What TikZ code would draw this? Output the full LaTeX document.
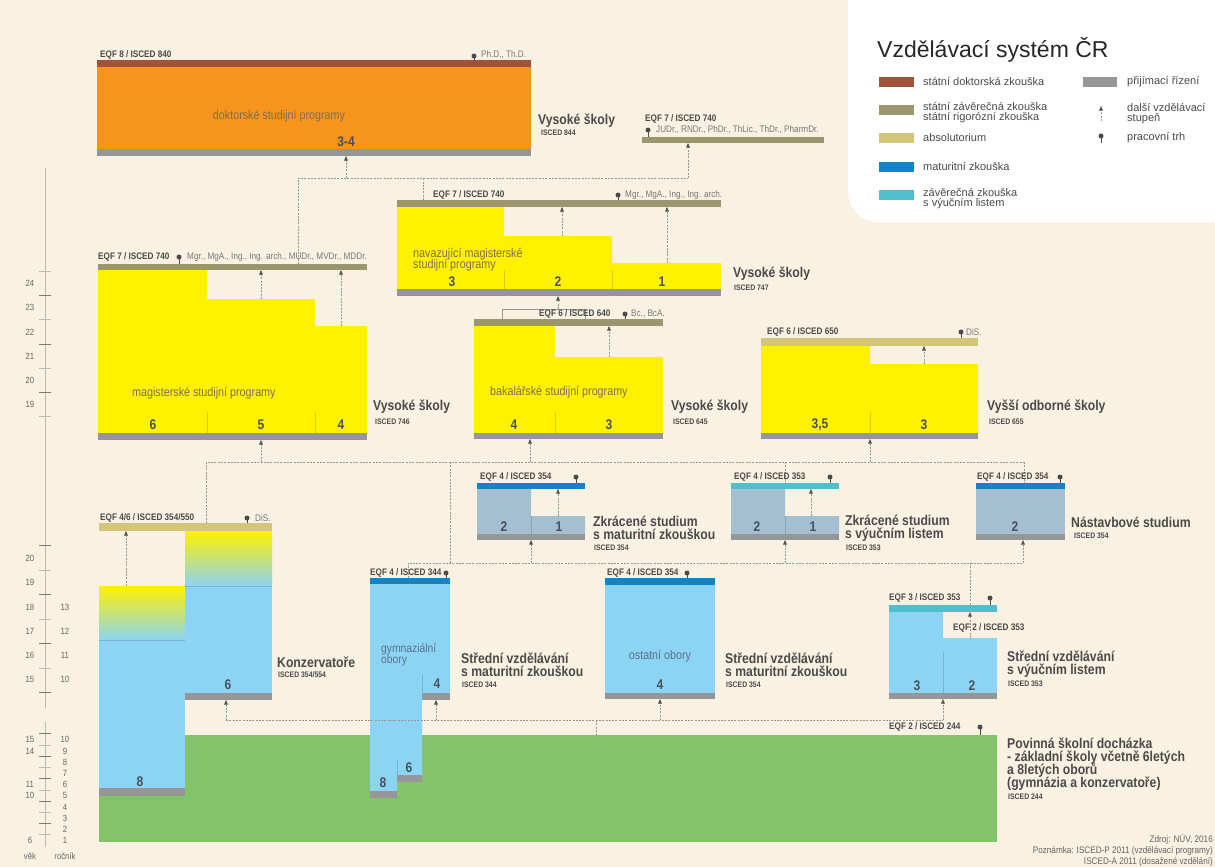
\documentclass[tikz,border=0pt]{standalone}
\usepackage{fontspec}
\setmainfont{Liberation Sans}
\newfontfamily\nf[FakeStretch=0.86]{Liberation Sans}
\usetikzlibrary{arrows.meta}
\definecolor{bg}{RGB}{249,242,226}
\definecolor{orng}{RGB}{247,148,30}
\definecolor{brwn}{RGB}{160,82,58}
\definecolor{gbar}{RGB}{150,150,152}
\definecolor{olive}{RGB}{156,150,110}
\definecolor{yel}{RGB}{255,241,0}
\definecolor{khaki}{RGB}{212,198,120}
\definecolor{mblue}{RGB}{12,133,201}
\definecolor{teal}{RGB}{80,190,204}
\definecolor{lblue}{RGB}{140,212,244}
\definecolor{gblue}{RGB}{165,191,210}
\definecolor{grn}{RGB}{131,196,107}
\definecolor{tdark}{RGB}{74,74,74}
\definecolor{tmid}{RGB}{100,100,100}
\definecolor{tlight}{RGB}{120,120,120}
\definecolor{tnum}{RGB}{72,82,92}
\definecolor{tbody}{RGB}{125,112,82}
\definecolor{tbblue}{RGB}{90,115,140}
\definecolor{cgray}{RGB}{150,150,150}
\definecolor{tipc}{RGB}{80,80,80}
\definecolor{axc}{RGB}{190,185,175}
\definecolor{axd}{RGB}{120,120,120}
\definecolor{pinc}{RGB}{75,75,75}
\newcommand\fEqf{\nf\bfseries\fontsize{9.5}{10}\selectfont}
\newcommand\fCred{\nf\fontsize{9.5}{10}\selectfont}
\newcommand\fBody{\nf\fontsize{12.5}{11}\selectfont}
\newcommand\fTtl{\nf\bfseries\fontsize{14.2}{12.8}\selectfont}
\newcommand\fIsc{\nf\bfseries\fontsize{8}{9}\selectfont}
\newcommand\fNum{\nf\bfseries\fontsize{14}{14}\selectfont}
\newcommand\fLeg{\fontsize{11}{10}\selectfont}
\newcommand\fAx{\nf\fontsize{9}{9}\selectfont}
\newcommand\fFoot{\nf\fontsize{9.5}{11}\selectfont}
\newcommand\mypin[3]{\fill[pinc] (#1,#2) circle (2.5pt); \draw[pinc,line width=0.9pt] (#1,#2) -- (#1,#3);}
\tikzset{
  eqf/.style={font=\fEqf,text=tdark,anchor=west,inner sep=0pt},
  cred/.style={font=\fCred,text=tlight,anchor=west,inner sep=0pt},
  body/.style={font=\fBody,text=tbody,inner sep=0pt,align=left},
  ttl/.style={font=\fTtl,text=tdark,anchor=west,inner sep=0pt,align=left},
  isc/.style={font=\fIsc,text=tdark,anchor=west,inner sep=0pt},
  numl/.style={font=\fNum,text=tnum,inner sep=0pt},
  leg/.style={font=\fLeg,text=tdark,anchor=west,inner sep=0pt,align=left},
  axlab/.style={font=\fAx,text=tmid,inner sep=0pt},
  conn/.style={draw=cgray,line width=0.6pt,dash pattern=on 2pt off 1.3pt},
  arr/.style={conn,-{Triangle[length=4.5pt,width=3.6pt,fill=tipc,color=tipc]}},
  axl/.style={draw=axc,line width=0.7pt},
  divy/.style={draw=black,opacity=0.15,line width=0.5pt},
}
\begin{document}
\lineskiplimit=-100pt
\begin{tikzpicture}[x=1pt,y=-1pt]
\useasboundingbox (0,0) rectangle (1215,867);
\fill[bg] (0,0) rectangle (1215,867);
\begin{scope}
\clip (0,0) rectangle (1215,867);
\fill[white,rounded corners=30pt] (848,-40) rectangle (1260,222);
\end{scope}

% ---------- legend ----------
\node[anchor=west,inner sep=0pt,font=\fontsize{23}{23}\selectfont,text=black!85] (legtitle) at (877,50) {Vzdělávací systém ČR};
\fill[brwn] (879,77) rectangle (914,87);
\node[leg] (leg1) at (923,82) {státní doktorská zkouška};
\fill[olive] (879,105) rectangle (914,115);
\node[leg] (leg2) at (923,113) {státní závěrečná zkouška\\státní rigorózní zkouška};
\fill[khaki] (879,133) rectangle (914,143);
\node[leg] (leg3) at (923,138) {absolutorium};
\fill[mblue] (879,162) rectangle (914,172);
\node[leg] (leg4) at (923,167) {maturitní zkouška};
\fill[teal] (879,190) rectangle (914,200);
\node[leg] (leg5) at (923,199) {závěrečná zkouška\\s výučním listem};
\fill[gbar] (1083,77) rectangle (1117,87);
\node[leg] (leg6) at (1127,82) {přijímací řízení};
\coordinate (la1) at (1101,121);
\coordinate (la2) at (1101,106);
\draw[arr] (la1) -- (la2);
\node[leg] (leg7) at (1127,114) {další vzdělávací\\stupeň};
\mypin{1101}{136}{143}
\node[leg] (leg8) at (1127,138) {pracovní trh};

% ---------- axis ----------
\draw[axl] (45,168) -- (45,708);
\draw[axl] (45,722) -- (45,847);
\foreach \y [count=\i] in {271,295,319,344,368,392,416,545,570,594,619,643,668,692}{
  \draw[axl,draw=\ifodd\i axc\else axd\fi] (39,\y) -- (51,\y);}
\foreach \y [count=\i] in {733,745,756,767,778,790,801,812,823,834}{
  \draw[axl,draw=\ifodd\i axd\else axc\fi] (39,\y) -- (51,\y);}
\foreach \t/\y [count=\i] in {24/283,23/307,22/332,21/356,20/380,19/404,20/558,19/582,18/607,17/631,16/655,15/679,15/739,14/751,11/784,10/795,6/840}{
  \node[axlab] (age\i) at (30,\y) {\t};}
\foreach \t/\y [count=\i] in {13/607,12/631,11/655,10/679,10/739,9/751,8/762,7/773,6/784,5/795,4/807,3/818,2/829,1/840}{
  \node[axlab] (roc\i) at (65,\y) {\t};}
\node[axlab] (vek) at (30,856) {věk};
\node[axlab] (rocnik) at (65,856) {ročník};

% ---------- boxes ----------
% doctoral
\fill[brwn] (97,60) rectangle (531,67);
\fill[orng] (97,67) rectangle (531,149);
\fill[gbar] (97,149) rectangle (531,156);
% JUDr bar
\fill[olive] (642,137) rectangle (824,143);
% navazujici
\fill[olive] (397,200) rectangle (721,207);
\fill[yel] (397,207) -- (504,207) -- (504,236) -- (612,236) -- (612,263) -- (721,263) -- (721,289) -- (397,289) -- cycle;
\fill[gbar] (397,289) rectangle (721,296);
\draw[divy] (504,270) -- (504,289); \draw[divy] (612,270) -- (612,289);
% magisterske
\fill[olive] (98,264) rectangle (367,270);
\fill[yel] (98,270) -- (207,270) -- (207,299) -- (315,299) -- (315,326) -- (367,326) -- (367,433) -- (98,433) -- cycle;
\fill[gbar] (98,433) rectangle (367,440);
\draw[divy] (207,412) -- (207,433); \draw[divy] (315,412) -- (315,433);
% bakalarske
\fill[olive] (474,319) rectangle (663,326);
\fill[yel] (474,326) -- (555,326) -- (555,357) -- (663,357) -- (663,433) -- (474,433) -- cycle;
\fill[gbar] (474,433) rectangle (663,439);
\draw[divy] (555,412) -- (555,433);
% VOS
\fill[khaki] (761,338) rectangle (978,346);
\fill[yel] (761,346) -- (870,346) -- (870,364) -- (978,364) -- (978,433) -- (761,433) -- cycle;
\fill[gbar] (761,433) rectangle (978,439);
\draw[divy] (870,412) -- (870,433);
% zkracene 354
\fill[mblue] (477,483) rectangle (585,489);
\fill[gblue] (477,489) -- (531,489) -- (531,516) -- (585,516) -- (585,534) -- (477,534) -- cycle;
\fill[gbar] (477,534) rectangle (585,540);
\draw[divy] (531,516) -- (531,534);
% zkracene 353
\fill[teal] (731,483) rectangle (839,489);
\fill[gblue] (731,489) -- (785,489) -- (785,516) -- (839,516) -- (839,534) -- (731,534) -- cycle;
\fill[gbar] (731,534) rectangle (839,540);
\draw[divy] (785,516) -- (785,534);
% nastavbove
\fill[mblue] (976,483) rectangle (1065,489);
\fill[gblue] (976,489) rectangle (1065,534);
\fill[gbar] (976,534) rectangle (1065,540);
% green
\fill[grn] (99,735) rectangle (997,842);
% konzervatore
\fill[khaki] (99,523) rectangle (272,531);
\shade[top color=yel,bottom color=lblue] (99,586) rectangle (185,640);
\fill[lblue] (99,640) rectangle (185,788);
\fill[gbar] (99,788) rectangle (185,796);
\shade[top color=yel,bottom color=lblue] (185,531) rectangle (272,586);
\fill[lblue] (185,586) rectangle (272,693);
\fill[gbar] (185,693) rectangle (272,700);
\draw[divy] (99,640) -- (185,640); \draw[divy] (185,586) -- (272,586);
% gymnazium
\fill[mblue] (370,578) rectangle (450,584);
\fill[lblue] (370,584) -- (450,584) -- (450,693) -- (422,693) -- (422,775) -- (397,775) -- (397,791) -- (370,791) -- cycle;
\fill[gbar] (422,693) rectangle (450,700);
\fill[gbar] (397,775) rectangle (422,782);
\fill[gbar] (370,791) rectangle (397,798);
\draw[divy] (422,675) -- (422,693); \draw[divy] (397,760) -- (397,775);
% ostatni
\fill[mblue] (605,578) rectangle (715,585);
\fill[lblue] (605,585) rectangle (715,693);
\fill[gbar] (605,693) rectangle (715,699);
% ucebni
\fill[teal] (889,605) rectangle (997,612);
\fill[lblue] (889,612) -- (943,612) -- (943,638) -- (997,638) -- (997,693) -- (889,693) -- cycle;
\fill[gbar] (889,693) rectangle (997,699);
\draw[divy] (943,652) -- (943,693);

% ---------- connectors ----------
% level A
\coordinate (A1) at (298,178); \coordinate (A2) at (688,178);
\coordinate (Mtop) at (298,264);
\coordinate (Jb) at (688,143);
\coordinate (Ad) at (346,178); \coordinate (Dbot) at (346,156);
\coordinate (Nv) at (423,178); \coordinate (Ntop) at (423,200);
\draw[conn] (Mtop) -- (A1) -- (A2);
\draw[arr] (A2) -- (Jb);
\draw[arr] (Ad) -- (Dbot);
\draw[conn] (Ntop) -- (Nv);
% bakalar bracket to nav
\coordinate (Bb1) at (502,319); \coordinate (Bb2) at (502,309);
\coordinate (Bb3) at (585,309); \coordinate (Bb4) at (585,319);
\coordinate (Bn1) at (558,309); \coordinate (Bn2) at (558,296);
\draw[draw=cgray,line width=0.6pt] (Bb1) -- (Bb2) -- (Bb3) -- (Bb4);
\draw[arr] (Bn1) -- (Bn2);
% internal arrows
\coordinate (m5a) at (261,299); \coordinate (m5b) at (261,270); \draw[arr] (m5a) -- (m5b);
\coordinate (m4a) at (341,326); \coordinate (m4b) at (341,270); \draw[arr] (m4a) -- (m4b);
\coordinate (n2a) at (562,236); \coordinate (n2b) at (562,207); \draw[arr] (n2a) -- (n2b);
\coordinate (n1a) at (667,263); \coordinate (n1b) at (667,207); \draw[arr] (n1a) -- (n1b);
\coordinate (b3a) at (609,357); \coordinate (b3b) at (609,326); \draw[arr] (b3a) -- (b3b);
\coordinate (v3a) at (924,364); \coordinate (v3b) at (924,346); \draw[arr] (v3a) -- (v3b);
\coordinate (z1a) at (558,516); \coordinate (z1b) at (558,489); \draw[arr] (z1a) -- (z1b);
\coordinate (y1a) at (811,516); \coordinate (y1b) at (811,489); \draw[arr] (y1a) -- (y1b);
\coordinate (u2a) at (970,638); \coordinate (u2b) at (970,612); \draw[arr] (u2a) -- (u2b);
\coordinate (k8a) at (126,586); \coordinate (k8b) at (126,531); \draw[arr] (k8a) -- (k8b);
% level B
\coordinate (B1) at (206,462); \coordinate (B2) at (1024,462);
\coordinate (Kbar) at (206,523);
\draw[conn] (Kbar) -- (B1) -- (B2);
\coordinate (Bm) at (261,462); \coordinate (Mbot) at (261,440); \draw[arr] (Bm) -- (Mbot);
\coordinate (Bb) at (530,462); \coordinate (Bbot) at (530,439); \draw[arr] (Bb) -- (Bbot);
\coordinate (Bv) at (870,462); \coordinate (Vbot) at (870,439); \draw[arr] (Bv) -- (Vbot);
\coordinate (Bg) at (450,462); \coordinate (Cg) at (450,563); \draw[conn] (Bg) -- (Cg);
\coordinate (By) at (785,462); \coordinate (Ytop) at (785,483); \draw[conn] (By) -- (Ytop);
\coordinate (Nsttop) at (1024,483); \draw[conn] (B2) -- (Nsttop);
% level C
\coordinate (C1) at (408,563); \coordinate (C2) at (1023,563);
\coordinate (Gtop) at (408,578);
\draw[conn] (Gtop) -- (C1) -- (C2);
\coordinate (Cz) at (531,563); \coordinate (Zbot) at (531,540); \draw[arr] (Cz) -- (Zbot);
\coordinate (Cy) at (785,563); \coordinate (Ybot) at (785,540); \draw[arr] (Cy) -- (Ybot);
\coordinate (Nstbot) at (1023,540); \draw[arr] (C2) -- (Nstbot);
\coordinate (Cu) at (970,563); \coordinate (Utop) at (970,605); \draw[conn] (Cu) -- (Utop);
% level D
\coordinate (D1) at (226,720); \coordinate (D2) at (943,720);
\coordinate (K6bot) at (226,700);
\draw[conn] (D1) -- (D2);
\draw[arr] (D1) -- (K6bot);
\coordinate (Dg) at (436,720); \coordinate (G4bot) at (436,700); \draw[arr] (Dg) -- (G4bot);
\coordinate (Do) at (660,720); \coordinate (Obot) at (660,699); \draw[arr] (Do) -- (Obot);
\coordinate (Ubot) at (943,699); \draw[arr] (D2) -- (Ubot);
\coordinate (Dz) at (596,720); \coordinate (Ztop) at (596,735); \draw[conn] (Dz) -- (Ztop);

% ---------- pins ----------
\mypin{474}{56}{60}
\mypin{648}{130}{137}
\mypin{618}{195}{200}
\mypin{179}{257}{264}
\mypin{625}{314}{319}
\mypin{961}{332}{338}
\mypin{247}{518}{523}
\mypin{576}{477}{483}
\mypin{830}{477}{483}
\mypin{1060}{477}{483}
\mypin{446}{573}{578}
\mypin{687}{573}{578}
\mypin{990}{598}{605}
\mypin{980}{727}{735}

% ---------- texts ----------
% doctoral
\node[eqf] (eqf8) at (100,55) {EQF 8 / ISCED 840};
\node[cred] (phd) at (481,55) {Ph.D., Th.D.};
\node[body] (dokt) at (279,116) {doktorské studijní programy};
\node[numl] (d34) at (346,142) {3-4};
\node[ttl] (vs1) at (538,121) {Vysoké školy};
\node[isc] (is844) at (541,133) {ISCED 844};
% JUDr
\node[eqf] (eqf7j) at (645,119) {EQF 7 / ISCED 740};
\node[cred] (judr) at (656,130) {JUDr., RNDr., PhDr., ThLic., ThDr., PharmDr.};
% nav
\node[eqf] (eqf7n) at (433,195) {EQF 7 / ISCED 740};
\node[cred] (mgrn) at (625,195) {Mgr., MgA., Ing., Ing. arch.};
\node[body,anchor=west] (nav) at (413,260) {navazující magisterské\\studijní programy};
\node[numl] (n3) at (452,282) {3};
\node[numl] (n2) at (558,282) {2};
\node[numl] (n1) at (662,282) {1};
\node[ttl] (vs2) at (733,274) {Vysoké školy};
\node[isc] (is747) at (734,288) {ISCED 747};
% magisterske
\node[eqf] (eqf7m) at (98,257) {EQF 7 / ISCED 740};
\node[cred] (mgrm) at (187,257) {Mgr., MgA., Ing., Ing. arch., MUDr., MVDr., MDDr.};
\node[body,anchor=west] (mag) at (132,393) {magisterské studijní programy};
\node[numl] (m6) at (153,425) {6};
\node[numl] (m5) at (261,425) {5};
\node[numl] (m4) at (341,425) {4};
\node[ttl] (vs3) at (373,407) {Vysoké školy};
\node[isc] (is746) at (375,422) {ISCED 746};
% bakalarske
\node[eqf] (eqf6b) at (539,314) {EQF 6 / ISCED 640};
\node[cred] (bc) at (631,314) {Bc., BcA.};
\node[body,anchor=west] (bak) at (490,392) {bakalářské studijní programy};
\node[numl] (b4) at (514,425) {4};
\node[numl] (b3) at (609,425) {3};
\node[ttl] (vs4) at (671,407) {Vysoké školy};
\node[isc] (is645) at (673,422) {ISCED 645};
% VOS
\node[eqf] (eqf6v) at (767,332) {EQF 6 / ISCED 650};
\node[cred] (dis1) at (966,332) {DiS.};
\node[numl] (v35) at (820,425) {3,5};
\node[numl] (v3) at (924,425) {3};
\node[ttl] (vos) at (987,407) {Vyšší odborné školy};
\node[isc] (is655) at (989,422) {ISCED 655};
% zkracene 354
\node[eqf] (eqf4z) at (480,477) {EQF 4 / ISCED 354};
\node[numl] (z2) at (504,527) {2};
\node[numl] (z1) at (559,527) {1};
\node[ttl] (zkr1) at (593,528) {Zkrácené studium\\s maturitní zkouškou};
\node[isc] (is354a) at (594,548) {ISCED 354};
% zkracene 353
\node[eqf] (eqf4y) at (734,477) {EQF 4 / ISCED 353};
\node[numl] (y2) at (757,527) {2};
\node[numl] (y1) at (813,527) {1};
\node[ttl] (zkr2) at (845,528) {Zkrácené studium\\s výučním listem};
\node[isc] (is353a) at (846,548) {ISCED 353};
% nastavbove
\node[eqf] (eqf4n) at (977,477) {EQF 4 / ISCED 354};
\node[numl] (ns2) at (1015,527) {2};
\node[ttl] (nast) at (1071,522) {Nástavbové studium};
\node[isc] (is354b) at (1074,536) {ISCED 354};
% konzervatore
\node[eqf] (eqfk) at (100,518) {EQF 4/6 / ISCED 354/550};
\node[cred] (dis2) at (255,518) {DiS.};
\node[numl] (k8) at (140,782) {8};
\node[numl] (k6) at (228,685) {6};
\node[ttl] (konz) at (277,662) {Konzervatoře};
\node[isc] (is354554) at (278,675) {ISCED 354/554};
% gymnazium
\node[eqf] (eqf4g) at (370,573) {EQF 4 / ISCED 344};
\node[body,anchor=west,text=tbblue,font=\nf\fontsize{12}{10.5}\selectfont] (gymo) at (381,655) {gymnaziální\\obory};
\node[numl] (g4) at (437,684) {4};
\node[numl] (g6) at (409,768) {6};
\node[numl] (g8) at (383,783) {8};
\node[ttl] (sv1) at (461,665) {Střední vzdělávání\\s maturitní zkouškou};
\node[isc] (is344) at (462,685) {ISCED 344};
% ostatni
\node[eqf] (eqf4o) at (607,573) {EQF 4 / ISCED 354};
\node[body,text=tbblue] (ost) at (660,656) {ostatní obory};
\node[numl] (o4) at (660,685) {4};
\node[ttl] (sv2) at (725,665) {Střední vzdělávání\\s maturitní zkouškou};
\node[isc] (is354c) at (726,685) {ISCED 354};
% ucebni
\node[eqf] (eqf3u) at (889,598) {EQF 3 / ISCED 353};
\node[eqf] (eqf2u) at (953,628) {EQF 2 / ISCED 353};
\node[numl] (u3) at (917,686) {3};
\node[numl] (u2) at (972,686) {2};
\node[ttl] (sv3) at (1007,664) {Střední vzdělávání\\s výučním listem};
\node[isc] (is353b) at (1008,684) {ISCED 353};
% ZS
\node[ttl] (pov) at (1007,764) {Povinná školní docházka\\- základní školy včetně 6letých\\a 8letých oborů\\(gymnázia a konzervatoře)};
\node[eqf] (eqf2z) at (889,727) {EQF 2 / ISCED 244};
\node[isc] (is244) at (1008,797) {ISCED 244};
% footer
\node[font=\fFoot,text=tmid,anchor=east,inner sep=0pt,align=right] (foot) at (1213,850) {Zdroj: NÚV, 2016\\Poznámka: ISCED-P 2011 (vzdělávací programy)\\ISCED-A 2011 (dosažené vzdělání)};
\end{tikzpicture}
\end{document}
